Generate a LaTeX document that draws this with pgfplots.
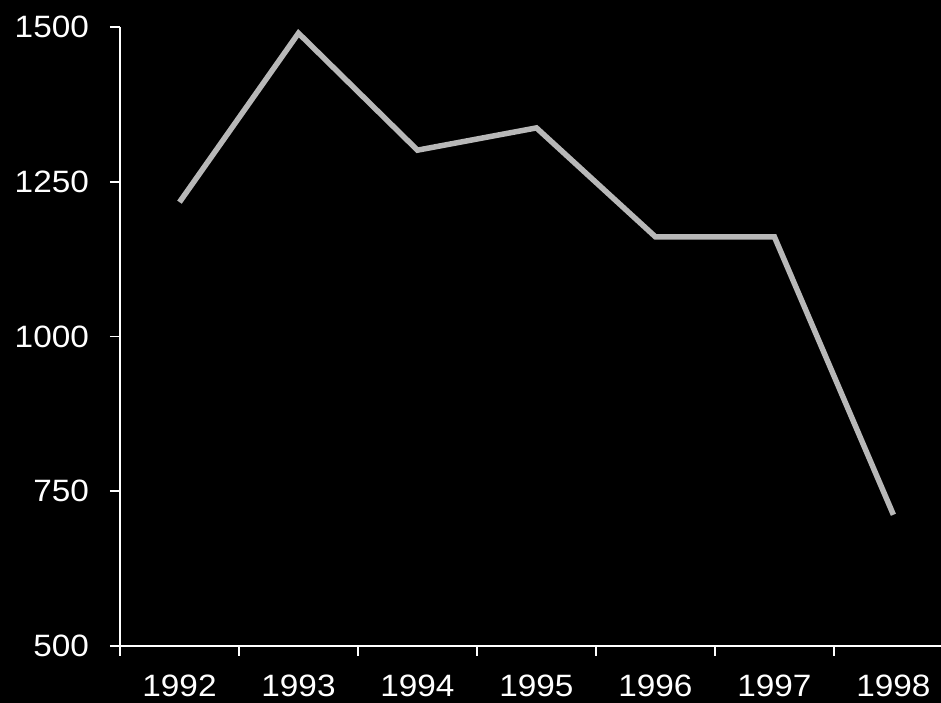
\documentclass[border=0pt]{standalone}
\usepackage{fontspec}
\setmainfont{Liberation Sans}
\usepackage{pgfplots}
\pgfplotsset{compat=1.18}
\begin{document}
\begin{tikzpicture}
\fill[black] (-120bp,-57bp) rectangle (821bp,646bp);
\begin{axis}[
  at={(0,0)}, anchor=south west,
  scale only axis,
  width=821bp, height=619bp,
  xmin=-0.5, xmax=6.4,
  ymin=500, ymax=1500,
  axis lines=left,
  axis line style={-, white, line width=1.6bp},
  tick style={white, line width=1.6bp},
  tick align=outside,
  major tick length=10bp,
  ytick={500,750,...,1500},
  xtick={-0.5,0.5,...,5.5},
  xticklabels={},
  extra x ticks={0,...,6},
  extra x tick labels={1992,1993,1994,1995,1996,1997,1998},
  extra x tick style={major tick length=0bp, tick style={draw=none},
    tick label style={yshift=-25bp}},
  /pgf/number format/assume math mode=true,
  /pgf/number format/1000 sep={},
  tick label style={white, font=\fontsize{31}{31}\selectfont, xscale=1.08},
  yticklabel style={xshift=-16bp},
  clip=false,
]
\addplot[color=white!72!black, line width=5.5bp, line join=miter] coordinates {
  (0,1217) (1,1490) (2,1301) (3,1337) (4,1161) (5,1161) (6,712)
};
\end{axis}
\pgfresetboundingbox
\useasboundingbox (-120bp,-57bp) rectangle (821bp,646bp);
\end{tikzpicture}
\end{document}
